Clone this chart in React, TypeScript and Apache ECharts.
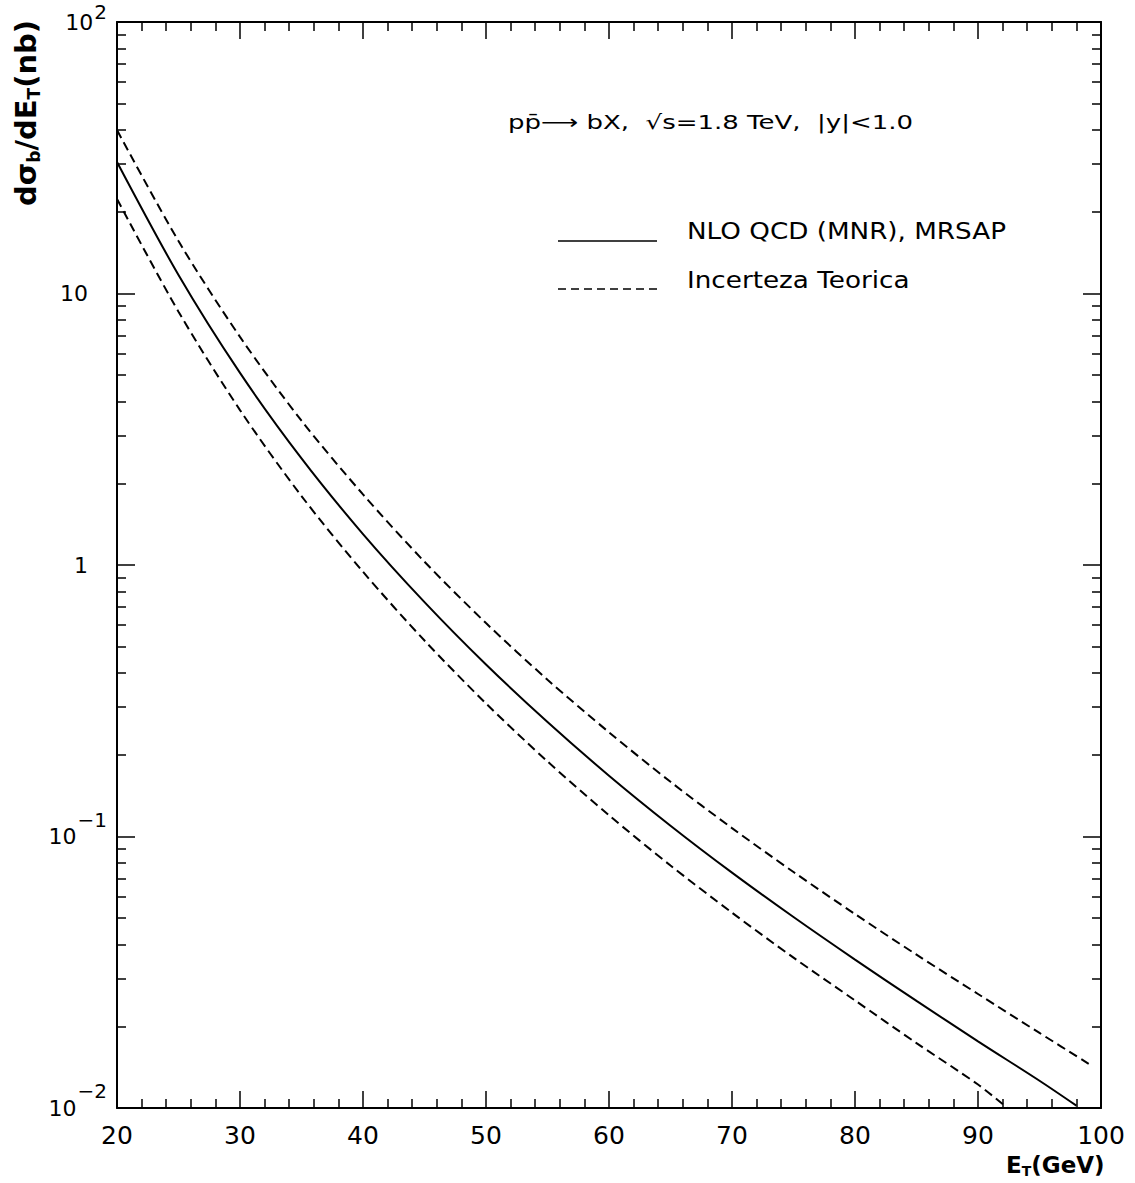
import React, { useEffect, useRef } from 'react';
import * as echarts from 'echarts';

// E_T (GeV) grid of each curve and its dσ/dE_T values (nb)
const E_CENTRAL = [20, 25, 30, 35, 40, 45, 50, 55, 60, 65, 70, 75, 80, 85, 90, 95, 98];
const CENTRAL = [30.5, 11.7, 5.1, 2.47, 1.3, 0.73, 0.43, 0.264, 0.1675, 0.1096, 0.0736, 0.0505, 0.0352, 0.0248, 0.0176, 0.0126, 0.0102];

const E_UPPER = [20, 25, 30, 35, 40, 45, 50, 55, 60, 65, 70, 75, 80, 85, 90, 95, 99];
const UPPER = [40.0, 15.6, 6.92, 3.4, 1.82, 1.028, 0.611, 0.378, 0.242, 0.159, 0.1074, 0.074, 0.0518, 0.0367, 0.0263, 0.0189, 0.01455];

const E_LOWER = [20, 25, 30, 35, 40, 45, 50, 55, 60, 65, 70, 75, 80, 85, 90, 92.5];
const LOWER = [22.3, 8.57, 3.72, 1.795, 0.944, 0.527, 0.309, 0.189, 0.1197, 0.0782, 0.0524, 0.0358, 0.0249, 0.01734, 0.0122, 0.0099];

// axis ticks
const X_MIN = 20;
const X_MAX = 100;
const X_STEP = 10;
const Y_DECADES = [0.01, 0.1, 1, 10, 100];
const Y_LABEL_BASE = ['10', '10', '1', '10', '10'];
const Y_LABEL_SUP = ['\u22122', '\u22121', '', '', '2'];
const Y_MINOR_MULT = [2, 3, 4, 5, 6, 7, 8, 9];

const TITLE = 'pp\u0304\u27F6 bX,  \u221As=1.8 TeV,  |y|<1.0';
const LEGEND_CENTRAL = 'NLO QCD (MNR), MRSAP';
const LEGEND_BAND = 'Incerteza Teorica';

const FONT = 'DejaVu Sans';

const yMinor: number[] = [];
for (let d = -2; d <= 1; d++) {
  for (const k of Y_MINOR_MULT) yMinor.push(Number((k * Math.pow(10, d)).toPrecision(3)));
}

const pairs = (xs: number[], ys: number[]) => xs.map((x, i) => [x, ys[i]]);

function yLabel(v: number): string {
  const i = Y_DECADES.findIndex((t) => Math.abs(Math.log10(t) - Math.log10(v)) < 1e-6);
  if (i < 0) return '';
  const sup = Y_LABEL_SUP[i];
  if (!sup) return `{b|${Y_LABEL_BASE[i]}}{g|}`;
  const style = i === Y_DECADES.length - 1 ? 't' : 's';
  return `{b|${Y_LABEL_BASE[i]}}{${style}|${sup}}`;
}

const lineStyleAxis = { color: '#000', width: 2 };

function makeYAxis(position: 'left' | 'right', major: boolean, showLabels: boolean) {
  return {
    type: 'log',
    logBase: 10,
    min: 0.01,
    max: 100,
    position,
    axisLine: { show: major, lineStyle: lineStyleAxis },
    axisTick: {
      show: true,
      inside: true,
      length: major ? 18 : 9,
      customValues: major ? Y_DECADES : yMinor,
      lineStyle: { color: '#000', width: 1.5 },
    },
    axisLabel: showLabels
      ? {
          show: true,
          customValues: Y_DECADES,
          margin: 10,
          formatter: yLabel,
          color: '#000',
          fontFamily: FONT,
          rich: {
            b: { fontSize: 22, fontFamily: FONT, color: '#000' },
            s: { fontSize: 20, fontFamily: FONT, color: '#000', padding: [0, 0, 34, 1] },
            t: { fontSize: 20, fontFamily: FONT, color: '#000', padding: [0, 0, 20, 1] },
            g: { width: 19 },
          },
        }
      : { show: false },
    splitLine: { show: false },
  };
}

function makeXAxis(position: 'bottom' | 'top', showLabels: boolean) {
  return {
    type: 'value',
    min: X_MIN,
    max: X_MAX,
    interval: X_STEP,
    position,
    axisLine: { show: true, onZero: false, lineStyle: lineStyleAxis },
    axisTick: { show: true, inside: true, length: 17, lineStyle: { color: '#000', width: 1.5 } },
    minorTick: { show: true, splitNumber: 5, length: 9, lineStyle: { color: '#000', width: 1.5 } },
    axisLabel: showLabels
      ? { show: true, fontSize: 25, fontFamily: FONT, color: '#000', margin: 15 }
      : { show: false },
    splitLine: { show: false },
    minorSplitLine: { show: false },
  };
}

const lineSeries = (name: string, xs: number[], ys: number[], dashed: boolean) => ({
  name,
  type: 'line',
  xAxisIndex: 0,
  yAxisIndex: 0,
  data: pairs(xs, ys),
  showSymbol: false,
  symbol: 'none',
  smooth: 0.3,
  clip: true,
  lineStyle: { color: '#000', width: 2, type: dashed ? [9, 5] : 'solid' },
  silent: true,
});

export default function App() {
  const ref = useRef<HTMLDivElement>(null);

  useEffect(() => {
    if (!ref.current) return;
    document.documentElement.style.overflow = 'hidden';
    document.body.style.overflow = 'hidden';
    document.body.style.margin = '0';
    const chart = echarts.init(ref.current, null, { renderer: 'svg' });
    const option = {
      animation: false,
      backgroundColor: '#fff',
      textStyle: { fontFamily: FONT },
      grid: { left: 117, top: 22, right: 34, bottom: 75, containLabel: false },
      xAxis: [makeXAxis('bottom', true), makeXAxis('top', false)],
      yAxis: [
        makeYAxis('left', true, true),
        makeYAxis('left', false, false),
        makeYAxis('right', true, false),
        makeYAxis('right', false, false),
      ],
      series: [
        lineSeries(LEGEND_CENTRAL, E_CENTRAL, CENTRAL, false),
        lineSeries(LEGEND_BAND, E_UPPER, UPPER, true),
        lineSeries(LEGEND_BAND, E_LOWER, LOWER, true),
      ],
      graphic: [
        {
          type: 'text',
          x: 508,
          y: 122,
          scaleX: 1.3,
          style: { text: TITLE, fontFamily: FONT, fontSize: 20, fill: '#000', align: 'left', verticalAlign: 'middle' },
        },
        {
          type: 'line',
          shape: { x1: 558, y1: 241, x2: 657, y2: 241 },
          style: { stroke: '#000', lineWidth: 1.5 },
        },
        {
          type: 'text',
          x: 687,
          y: 231,
          scaleX: 1.14,
          style: { text: LEGEND_CENTRAL, fontFamily: FONT, fontSize: 23, fill: '#000', align: 'left', verticalAlign: 'middle' },
        },
        {
          type: 'line',
          shape: { x1: 558, y1: 289, x2: 657, y2: 289 },
          style: { stroke: '#000', lineWidth: 1.5, lineDash: [8, 5] },
        },
        {
          type: 'text',
          x: 687,
          y: 280,
          scaleX: 1.14,
          style: { text: LEGEND_BAND, fontFamily: FONT, fontSize: 23, fill: '#000', align: 'left', verticalAlign: 'middle' },
        },
        {
          type: 'text',
          x: 26,
          y: 113,
          rotation: Math.PI / 2,
          style: {
            text: '{m|d\u03C3}{s|b}{m|/dE}{s|T}{m|(nb)}',
            align: 'center',
            verticalAlign: 'middle',
            rich: {
              m: { fontFamily: FONT, fontSize: 29, fontWeight: 'bold', color: '#000' },
              s: { fontFamily: FONT, fontSize: 17, fontWeight: 'bold', color: '#000', padding: [15, 0, 0, 0] },
            },
          },
        },
        {
          type: 'text',
          x: 1006,
          y: 1165,
          style: {
            text: '{m|E}{s|T}{m|(GeV)}',
            align: 'left',
            verticalAlign: 'middle',
            rich: {
              m: { fontFamily: FONT, fontSize: 23, fontWeight: 'bold', color: '#000' },
              s: { fontFamily: FONT, fontSize: 14, fontWeight: 'bold', color: '#000', padding: [12, 0, 0, 0] },
            },
          },
        },
      ],
    };
    chart.setOption(option as any);
    return () => chart.dispose();
  }, []);

  return <div ref={ref} style={{ width: 1135, height: 1183 }} />;
}
